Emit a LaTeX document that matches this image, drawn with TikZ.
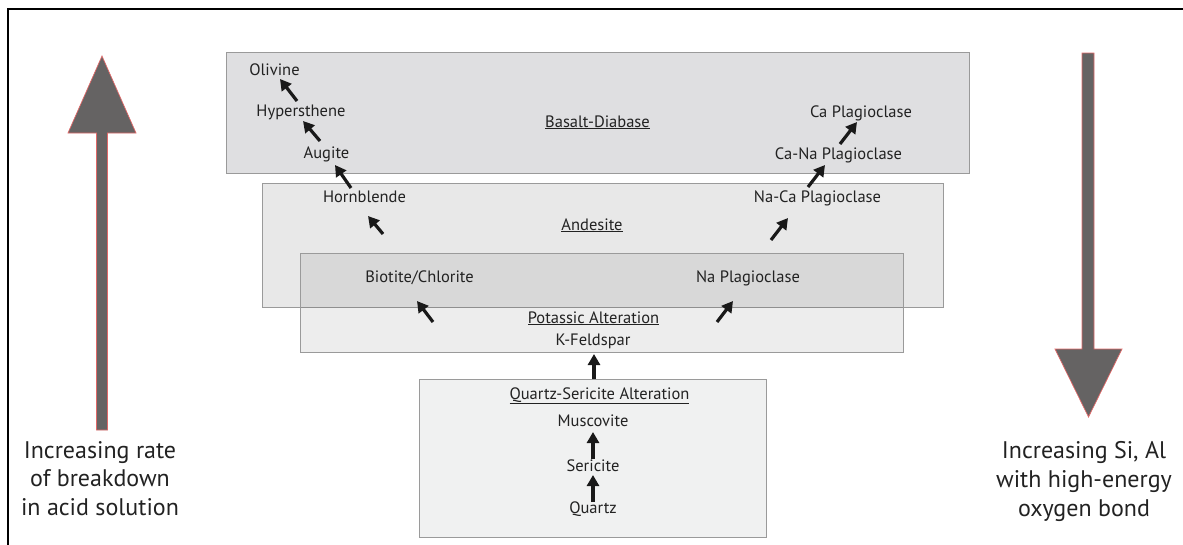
\documentclass[tikz,border=0pt]{standalone}
\usepackage{fontspec}
\setmainfont{PT Sans}
\usetikzlibrary{arrows.meta}
\definecolor{txt}{HTML}{222222}
\definecolor{boxline}{HTML}{9A9A9A}
\definecolor{basaltfill}{HTML}{DFDFE1}
\definecolor{qfill}{HTML}{F0F1F1}
\definecolor{bigfill}{HTML}{656363}
\definecolor{bigline}{HTML}{E06868}
\tikzset{
  lbl/.style={anchor=base, text=txt, font=\fontsize{16.5}{19}\selectfont, inner sep=0pt},
  biglbl/.style={anchor=base, text=txt, font=\fontsize{24}{28.5}\selectfont, inner sep=0pt, align=center},
  marr/.style={draw=black!90, line width=3.2pt, -{Triangle[length=11pt,width=12pt]}},
  zone/.style={draw=boxline, line width=0.9pt},
  bigarr/.style={fill=bigfill, draw=bigline, line width=0.7pt, line join=miter},
}
\begin{document}
\begin{tikzpicture}[x=1pt,y=-1pt]
\useasboundingbox (0,0) rectangle (1183,544);
% outer frame
\draw[line width=1.6pt, black] (8,600) -- (8,9) -- (1250,9);

% zone boxes
\draw[zone, fill=basaltfill] (226,52) rectangle (969,173);
\draw[zone, fill=black, fill opacity=0.09] (262,183) rectangle (943,307);
\draw[zone, fill=black, fill opacity=0.07] (300,253) rectangle (903,352);
\draw[zone, fill=qfill] (419,379) rectangle (766,537);

% big arrows
\draw[bigarr] (96.5,430) -- (96.5,133) -- (68,133) -- (102,56) -- (136,133) -- (107.5,133) -- (107.5,430) -- cycle;
\draw[bigarr] (1082,53) -- (1082,349) -- (1055,349) -- (1088.5,417) -- (1122,349) -- (1094,349) -- (1094,53) -- cycle;

% labels
\node[lbl] (oli) at (274.5,75) {Olivine};
\node[lbl] (hyp) at (301,116) {Hypersthene};
\node[lbl] (aug) at (326.5,158) {Augite};
\node[lbl] (hor) at (364.5,202) {Hornblende};
\node[lbl] (bas) at (597.5,127) {\underline{Basalt-Diabase}};
\node[lbl] (and) at (592,230) {\underline{Andesite}};
\node[lbl] (cap) at (861,117) {Ca Plagioclase};
\node[lbl] (cnp) at (838.5,159) {Ca-Na Plagioclase};
\node[lbl] (ncp) at (817.5,202) {Na-Ca Plagioclase};
\node[lbl] (bio) at (419.5,282) {Biotite/Chlorite};
\node[lbl] (nap) at (748,282) {Na Plagioclase};
\node[lbl] (pot) at (593.5,323) {\underline{Potassic Alteration}};
\node[lbl] (kfe) at (593,345) {K-Feldspar};
\node[lbl] (qsa) at (599.5,399) {\underline{Quartz-Sericite Alteration}};
\node[lbl] (mus) at (593,426) {Muscovite};
\node[lbl] (ser) at (593,471) {Sericite};
\node[lbl] (qua) at (593,513) {Quartz};

\node[biglbl] (lt1) at (100,458) {Increasing rate};
\node[biglbl] (lt2) at (100,486.5) {of breakdown};
\node[biglbl] (lt3) at (100,515) {in acid solution};
\node[biglbl] (rt1) at (1084,458) {Increasing Si, Al};
\node[biglbl] (rt2) at (1084,487) {with high-energy};
\node[biglbl] (rt3) at (1084,516) {oxygen bond};

% arrow end points
\coordinate (a1s) at (297,101); \coordinate (a1e) at (280,79);
\coordinate (a2s) at (320,141); \coordinate (a2e) at (303,121);
\coordinate (a3s) at (351,188); \coordinate (a3e) at (335,165);
\coordinate (a4s) at (383,234); \coordinate (a4e) at (368,216);
\coordinate (a5s) at (433,322); \coordinate (a5e) at (417,301);
\coordinate (a6s) at (717,322); \coordinate (a6e) at (733,301);
\coordinate (a7s) at (771,240); \coordinate (a7e) at (788,218);
\coordinate (a8s) at (808,187); \coordinate (a8e) at (825,165);
\coordinate (a9s) at (840,144); \coordinate (a9e) at (857,122);
\coordinate (b1s) at (594,379); \coordinate (b1e) at (594,354);
\coordinate (b2s) at (593,459); \coordinate (b2e) at (593,432);
\coordinate (b3s) at (593,502); \coordinate (b3e) at (593,475);

\draw[marr] (a1s) -- (a1e);
\draw[marr] (a2s) -- (a2e);
\draw[marr] (a3s) -- (a3e);
\draw[marr] (a4s) -- (a4e);
\draw[marr] (a5s) -- (a5e);
\draw[marr] (a6s) -- (a6e);
\draw[marr] (a7s) -- (a7e);
\draw[marr] (a8s) -- (a8e);
\draw[marr] (a9s) -- (a9e);
\draw[marr] (b1s) -- (b1e);
\draw[marr] (b2s) -- (b2e);
\draw[marr] (b3s) -- (b3e);
\end{tikzpicture}
\end{document}
